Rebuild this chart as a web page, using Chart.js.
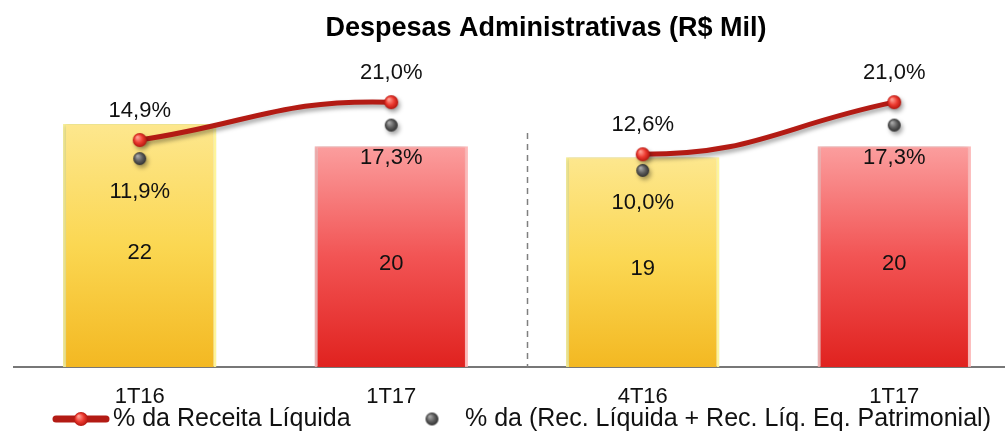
<!DOCTYPE html>
<html>
<head>
<meta charset="utf-8">
<script src="https://cdn.jsdelivr.net/npm/chart.js@4.4.1/dist/chart.umd.min.js"></script>
<style>
  html, body { margin: 0; padding: 0; background: #fff; }
  #wrap { width: 1005px; height: 432px; overflow: hidden; }
  canvas { display: block; }
</style>
</head>
<body>
<div id="wrap"><canvas id="grafico" width="1032" height="432"></canvas></div>
<script>
const periodos = ['1T16', '1T17', '4T16', '1T17']
const despesas = [22, 20, 19, 20]
const pctReceita = [14.9, 21.0, 12.6, 21.0]
const pctRecEq = [11.9, 17.3, 10.0, 17.3]
const titulo = 'Despesas Administrativas (R$ Mil)'
const legendaReceita = '% da Receita Líquida'
const legendaRecEq = '% da (Rec. Líquida + Rec. Líq. Eq. Patrimonial)'

const FONTE = '"Liberation Sans", Arial, sans-serif'
const fmt = v => v.toFixed(1).replace('.', ',') + '%'

// bolinhas com brilho para os pontos
const esfera = (r, claro, medio, escuro) => {
  const c = document.createElement('canvas')
  c.width = c.height = 2 * r + 2
  const g = c.getContext('2d')
  const m = r + 1
  const grad = g.createRadialGradient(m - r * 0.35, m - r * 0.4, r * 0.1, m, m, r)
  grad.addColorStop(0, claro)
  grad.addColorStop(0.55, medio)
  grad.addColorStop(1, escuro)
  g.fillStyle = grad
  g.beginPath()
  g.arc(m, m, r, 0, Math.PI * 2)
  g.fill()
  return c
}
const bolaVermelha = esfera(7, '#ff9c90', '#ec3a30', '#b3160f')
const bolaCinza = esfera(6.5, '#a8a8a8', '#5e5e5e', '#303030')

const corBarra = (ctx) => {
  const { chart, dataIndex, raw } = ctx
  const y = chart.scales.y
  const par = dataIndex % 2 === 0
  if (!y || !chart.chartArea) return par ? '#f8cc3c' : '#ec4040'
  const topo = y.getPixelForValue(raw)
  const base = y.getPixelForValue(0)
  const g = chart.ctx.createLinearGradient(0, topo, 0, base)
  if (par) {
    g.addColorStop(0, '#fde78e')
    g.addColorStop(0.5, '#fbd752')
    g.addColorStop(1, '#f3b822')
  } else {
    g.addColorStop(0, '#fb9e9e')
    g.addColorStop(0.5, '#f25454')
    g.addColorStop(1, '#e0221f')
  }
  return g
}
const bordaBarra = ctx => ctx.dataIndex % 2 === 0 ? 'rgba(255,246,150,0.95)' : 'rgba(255,175,175,0.85)'

const sombra = {
  id: 'sombra',
  beforeDatasetDraw(chart, args) {
    const ctx = chart.ctx
    ctx.save()
    if (args.meta.type === 'bar') {
      ctx.shadowColor = 'rgba(0,0,0,0.18)'
      ctx.shadowBlur = 5
      ctx.shadowOffsetX = -2
    } else {
      ctx.shadowColor = 'rgba(0,0,0,0.35)'
      ctx.shadowBlur = 4
      ctx.shadowOffsetX = 2
      ctx.shadowOffsetY = 3
    }
  },
  afterDatasetDraw(chart) {
    chart.ctx.restore()
  }
}

const separador = {
  id: 'separador',
  beforeDatasetsDraw(chart) {
    const { ctx, scales: { x, y } } = chart
    const px = Math.round(x.getPixelForValue(1.54)) + 0.5
    ctx.save()
    ctx.strokeStyle = '#7f7f7f'
    ctx.lineWidth = 1.5
    ctx.setLineDash([6, 5])
    ctx.beginPath()
    ctx.moveTo(px, y.getPixelForValue(21.2))
    ctx.lineTo(px, y.getPixelForValue(0))
    ctx.stroke()
    ctx.restore()
  }
}

const rotulos = {
  id: 'rotulos',
  afterDatasetsDraw(chart) {
    const ctx = chart.ctx
    ctx.save()
    ctx.font = '22px ' + FONTE
    ctx.fillStyle = '#111'
    ctx.textAlign = 'center'
    ctx.textBaseline = 'middle'
    chart.getDatasetMeta(0).data.forEach((bar, i) => {
      ctx.fillText(String(despesas[i]), bar.x, (bar.y + bar.base) / 2 + 7)
    })
    chart.getDatasetMeta(1).data.forEach((pt, i) => {
      ctx.fillText(fmt(pctReceita[i]), pt.x, pt.y - 29)
    })
    chart.getDatasetMeta(2).data.forEach((pt, i) => {
      ctx.fillText(fmt(pctRecEq[i]), pt.x, pt.y + 33)
    })
    ctx.restore()
  }
}

// legenda desenhada a mao para acertar os espacamentos
const legenda = {
  id: 'legenda',
  afterDraw(chart) {
    const ctx = chart.ctx
    const yl = 419
    ctx.save()
    ctx.strokeStyle = '#b31b14'
    ctx.lineWidth = 7
    ctx.lineCap = 'round'
    ctx.beginPath()
    ctx.moveTo(56, yl)
    ctx.lineTo(106, yl)
    ctx.stroke()
    ctx.drawImage(bolaVermelha, 81 - bolaVermelha.width / 2, yl - bolaVermelha.height / 2)
    ctx.drawImage(bolaCinza, 432 - bolaCinza.width / 2, yl - bolaCinza.height / 2)
    ctx.font = '25px ' + FONTE
    ctx.fillStyle = '#111'
    ctx.textAlign = 'left'
    ctx.textBaseline = 'middle'
    ctx.fillText(legendaReceita, 113, yl)
    ctx.fillText(legendaRecEq, 465, yl)
    ctx.restore()
  }
}

const posTitulo = {
  id: 'posTitulo',
  afterLayout(chart) {
    const t = chart.titleBlock
    const d = 546 - (t.left + t.right) / 2
    t.left += d
    t.right += d
  }
}

new Chart(document.getElementById('grafico'), {
  data: {
    labels: periodos,
    datasets: [{
      type: 'bar',
      label: 'Despesas',
      data: despesas,
      backgroundColor: corBarra,
      borderColor: bordaBarra,
      borderWidth: { left: 3, right: 3, top: 1, bottom: 0 },
      borderSkipped: false,
      categoryPercentage: 1,
      barPercentage: 0.61,
      yAxisID: 'y',
      order: 2,
    }, {
      type: 'line',
      label: legendaReceita,
      data: pctReceita,
      borderColor: '#b31b14',
      borderWidth: 5,
      tension: 0.45,
      pointStyle: bolaVermelha,
      pointRadius: 7,
      segment: {
        borderColor: s => s.p0DataIndex === 1 ? 'rgba(0,0,0,0)' : undefined,
      },
      yAxisID: 'y2',
      order: 0,
    }, {
      type: 'line',
      label: legendaRecEq,
      data: pctRecEq,
      showLine: false,
      pointStyle: bolaCinza,
      pointRadius: 7,
      yAxisID: 'y2',
      order: 1,
    }]
  },
  options: {
    responsive: false,
    animation: false,
    layout: { padding: { left: 14, right: 0, top: 0, bottom: 5 } },
    plugins: {
      legend: { display: false },
      tooltip: { enabled: false },
      title: {
        display: true,
        text: titulo,
        color: '#000',
        font: { family: FONTE, size: 27, weight: 'bold' },
        padding: { top: 12, bottom: 15.6 },
      },
    },
    scales: {
      x: {
        grid: { display: false, drawTicks: false },
        border: { display: true, color: '#777', width: 2 },
        ticks: {
          color: '#111',
          font: { family: FONTE, size: 22, lineHeight: 1 },
          padding: 19,
          maxRotation: 0,
          autoSkip: false,
        },
      },
      y: { display: false, min: 0, max: 27.8 },
      y2: { display: false, min: -21.7, max: 27.8 },
    },
  },
  plugins: [sombra, separador, rotulos, legenda, posTitulo],
})
</script>
</body>
</html>
